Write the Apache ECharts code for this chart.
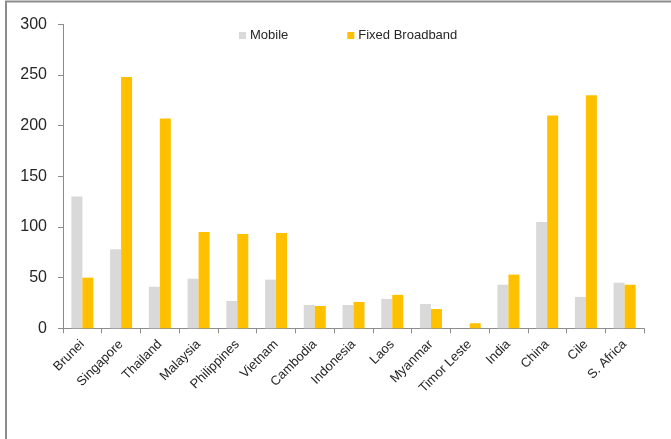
<!DOCTYPE html>
<html><head><meta charset="utf-8">
<script src="https://cdn.jsdelivr.net/npm/echarts@6/dist/echarts.min.js"></script>
<style>html,body{margin:0;padding:0;background:#fff}#c{width:671px;height:439px}</style>
</head><body><div id="c"></div>
<script>
const categories = ['Brunei','Singapore','Thailand','Malaysia','Philippines','Vietnam','Cambodia','Indonesia','Laos','Myanmar','Timor Leste','India','China','Cile','S. Africa'];
const mobile = [130, 78, 41, 49, 27, 48, 23, 23, 29, 24, 0, 43, 105, 31, 45];
const fixedBroadband = [50, 248, 207, 95, 93, 94, 22, 26, 33, 19, 5, 53, 210, 230, 43];
const yTicks = [0, 50, 100, 150, 200, 250, 300];

const FONT = 'Liberation Sans';
const chart = echarts.init(document.getElementById('c'), null, {renderer:'canvas'});
chart.setOption({
  animation: false,
  backgroundColor: '#fff',
  textStyle: {fontFamily: FONT},
  graphic: [
    {type:'line', shape:{x1:5, y1:1.5, x2:671, y2:1.5}, style:{stroke:'#8c8c8c', lineWidth:2}},
    {type:'line', shape:{x1:6, y1:1, x2:6, y2:439}, style:{stroke:'#8c8c8c', lineWidth:2}}
  ],
  legend: {
    top: 29, left: 239, padding: 0,
    itemWidth: 7, itemHeight: 7, itemGap: 59,
    icon: 'rect',
    textStyle: {fontSize: 13, color: '#262626', fontFamily: FONT, padding:[0,0,0,-1]},
    data: ['Mobile','Fixed Broadband']
  },
  grid: {left: 63, top: 24.3, right: 27, bottom: 110.7, containLabel: false},
  xAxis: {
    type: 'category', data: categories,
    axisLine: {lineStyle: {color: '#8c8c8c', width: 1}},
    axisTick: {show: true, alignWithLabel: false, length: 5, lineStyle:{color:'#8c8c8c'}},
    axisLabel: {rotate: 45, interval: 0, fontSize: 13, color: '#262626', margin: 14, fontFamily: FONT}
  },
  yAxis: {
    type: 'value', min: yTicks[0], max: yTicks[yTicks.length-1], interval: 50,
    axisLine: {show: true, lineStyle: {color: '#8c8c8c'}},
    axisTick: {show: true, length: 5, lineStyle:{color:'#8c8c8c'}},
    splitLine: {show: false},
    axisLabel: {fontSize: 16, color: '#262626', margin: 16, fontFamily: FONT}
  },
  series: [
    {name: 'Mobile', type: 'bar', data: mobile, itemStyle: {color: '#D9D9D9'}, barWidth: 11, barGap: '0%'},
    {name: 'Fixed Broadband', type: 'bar', data: fixedBroadband, itemStyle: {color: '#FFC000'}, barWidth: 11, barGap: '0%'}
  ]
});
</script></body></html>
